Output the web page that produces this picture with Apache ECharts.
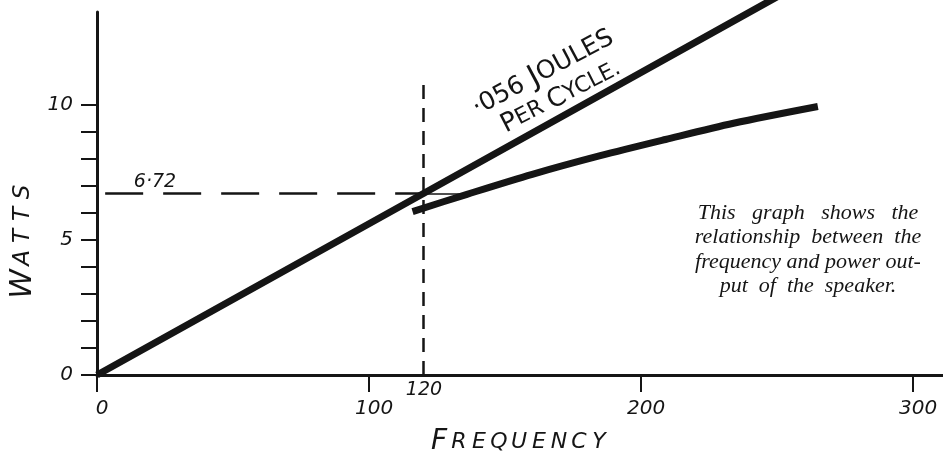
<!DOCTYPE html>
<html>
<head>
<meta charset="utf-8">
<script src="https://cdn.jsdelivr.net/npm/echarts@6/dist/echarts.min.js"></script>
<style>
  html, body { margin: 0; padding: 0; background: #fff; }
  #chart { width: 943px; height: 456px; }
</style>
</head>
<body>
<div id="chart"></div>
<script>
// straight line: .056 joules per cycle
const freqLinear = [0, 120, 250]
const wattsLinear = [0, 6.72, 14.0]

// measured speaker output
const freqCurve = [116, 136, 160, 185, 209, 234, 265]
const wattsCurve = [6.05, 6.69, 7.43, 8.12, 8.72, 9.32, 9.94]

const xTicks = [0, 100, 200, 300]
const yTicks = [0, 1, 2, 3, 4, 5, 6, 7, 8, 9, 10]
const yLabels = [0, 5, 10]

const markFreq = 120
const markWatts = 6.72

const INK = '#151515'
const HAND = '"DejaVu Sans", sans-serif'
const SERIF = '"Liberation Serif", "DejaVu Serif", serif'

const chart = echarts.init(document.getElementById('chart'))

function pairs(xs, ys) {
  return xs.map((x, i) => [x, ys[i]])
}

// spaced-out hand lettering: first letter large, rest small caps
function lettering(word) {
  return '{big|' + word[0] + '}' + word.slice(1).split('').map(c => '{sm|' + c + '}').join('')
}

const handLabel = {
  color: INK,
  fontFamily: HAND,
  fontStyle: 'italic',
  fontSize: 20,
}

chart.setOption({
  animation: false,
  grid: { left: 97, right: 0, top: 12, bottom: 81, outerBoundsMode: 'none', containLabel: false },
  xAxis: {
    type: 'value',
    min: 0,
    max: 311,
    interval: 100,
    axisLine: { onZero: false, lineStyle: { color: INK, width: 3 } },
    axisTick: { customValues: xTicks, length: 17, lineStyle: { color: INK, width: 2 } },
    axisLabel: { ...handLabel, customValues: xTicks, margin: 24, padding: [0, 0, 0, 10] },
    splitLine: { show: false },
  },
  yAxis: {
    type: 'value',
    min: 0,
    max: 13.44,
    interval: 1,
    axisLine: { onZero: false, lineStyle: { color: INK, width: 3 } },
    axisTick: { customValues: yTicks, length: 16, lineStyle: { color: INK, width: 2 } },
    axisLabel: { ...handLabel, customValues: yLabels, margin: 24 },
    splitLine: { show: false },
  },
  series: [
    {
      type: 'line',
      data: pairs(freqLinear, wattsLinear),
      showSymbol: false,
      clip: false,
      lineStyle: { color: INK, width: 7, cap: 'butt' },
      markLine: {
        silent: true,
        symbol: 'none',
        label: { show: false },
        data: [
          [
            { coord: [3, markWatts], lineStyle: { type: [38, 20], width: 2.5, color: INK } },
            { coord: [markFreq, markWatts] },
          ],
          [
            { coord: [markFreq, 0], lineStyle: { type: [14, 9], width: 2.5, color: INK } },
            { coord: [markFreq, 10.75] },
          ],
          [
            { coord: [markFreq, markWatts], lineStyle: { type: 'solid', width: 1.5, color: INK } },
            { coord: [137, markWatts] },
          ],
        ],
      },
    },
    {
      type: 'line',
      data: pairs(freqCurve, wattsCurve),
      showSymbol: false,
      smooth: 0.3,
      lineStyle: { color: INK, width: 7, cap: 'butt' },
    },
  ],
  graphic: [
    {
      type: 'text', x: 23, y: 240, rotation: Math.PI / 2,
      style: {
        text: lettering('WATTS'), align: 'center', verticalAlign: 'middle',
        rich: {
          big: { fontFamily: HAND, fontStyle: 'italic', fontSize: 30, fill: INK, width: 30, align: 'center' },
          sm: { fontFamily: HAND, fontStyle: 'italic', fontSize: 23, fill: INK, width: 22, align: 'center' },
        },
      },
    },
    {
      type: 'text', x: 519, y: 442,
      style: {
        text: lettering('FREQUENCY'), align: 'center', verticalAlign: 'middle',
        rich: {
          big: { fontFamily: HAND, fontStyle: 'italic', fontSize: 28, fill: INK, width: 20, align: 'center' },
          sm: { fontFamily: HAND, fontStyle: 'italic', fontSize: 22, fill: INK, width: 20, align: 'center' },
        },
      },
    },
    {
      type: 'text', x: 155, y: 182,
      style: { text: '6·72', fontFamily: HAND, fontStyle: 'italic', fontSize: 19, fill: INK, align: 'center', verticalAlign: 'middle' },
    },
    {
      type: 'text', x: 424, y: 390,
      style: { text: '120', fontFamily: HAND, fontStyle: 'italic', fontSize: 19, fill: INK, align: 'center', verticalAlign: 'middle' },
    },
    {
      type: 'text', x: 543, y: 73, rotation: 28 * Math.PI / 180,
      style: {
        text: '·056 {j|J}OULES',
        fontFamily: HAND, fontSize: 25, fill: INK, align: 'center', verticalAlign: 'middle',
        rich: { j: { fontFamily: HAND, fontSize: 30, fill: INK } },
      },
    },
    {
      type: 'text', x: 561, y: 97, rotation: 27 * Math.PI / 180,
      style: {
        text: '{b|P}ER {b|C}YCLE.',
        fontFamily: HAND, fontSize: 22, fill: INK, align: 'center', verticalAlign: 'middle',
        rich: { b: { fontFamily: HAND, fontSize: 26, fill: INK } },
      },
    },
    {
      type: 'group', x: 808, y: 213,
      children: [
        'This   graph   shows   the',
        'relationship  between  the',
        'frequency and power out-',
        'put  of  the  speaker.',
      ].map((line, i) => ({
        type: 'text', x: 0, y: i * 24.5,
        style: { text: line, fontFamily: SERIF, fontStyle: 'italic', fontSize: 22, fill: INK, align: 'center', verticalAlign: 'middle' },
      })),
    },
  ],
})
</script>
</body>
</html>
